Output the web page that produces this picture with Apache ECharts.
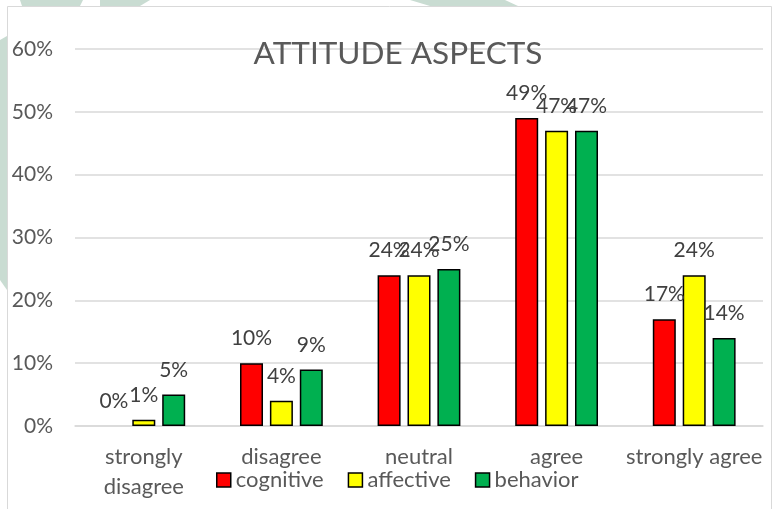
<!DOCTYPE html>
<html>
<head>
<meta charset="utf-8">
<script src="https://cdn.jsdelivr.net/npm/echarts@6/dist/echarts.min.js"></script>
<style>html,body{margin:0;padding:0;background:#fff;}#c{width:775px;height:509px;}</style>
</head>
<body>
<div id="c"></div>
<script>
const categories = ['strongly disagree', 'disagree', 'neutral', 'agree', 'strongly agree'];
const cognitive = [0, 10, 24, 49, 17];
const affective = [1, 4, 24, 47, 24];
const behavior = [5, 9, 25, 47, 14];
const seriesNames = ['cognitive', 'affective', 'behavior'];
const yTicks = [0, 10, 20, 30, 40, 50, 60];

const FONT = 'Lato';
const colors = ['#FF0000', '#FFFF00', '#00B050'];
const chart = echarts.init(document.getElementById('c'), null, {renderer: 'canvas'});

function mk(name, data, color) {
  return {
    name: name, type: 'bar',
    data: data.map(v => v === 0 ? {value: v, itemStyle: {borderWidth: 0}} : v),
    barWidth: 23, barGap: '30%',
    itemStyle: {color: color, borderColor: '#000', borderWidth: 1.5},
    label: {show: true, position: 'top', distance: 14, formatter: '{c}%',
      color: '#404040', fontFamily: FONT, fontSize: 21}
  };
}
const wm = '#c9dcd2';
chart.setOption({
  animation: false,
  backgroundColor: '#fff',
  title: {text: 'ATTITUDE ASPECTS', left: 393, top: 33, textAlign: 'center',
    textStyle: {fontFamily: FONT, fontSize: 31.5, fontWeight: 'normal', color: '#595959'}},
  graphic: [
    {type: 'polygon', z: -20, shape: {points: [[20,0],[83,0],[80,6],[22,6]]}, style: {fill: wm}},
    {type: 'polygon', z: -20, shape: {points: [[100,0],[150,0],[140,6],[100,6]]}, style: {fill: wm}},
    {type: 'polygon', z: -20, shape: {points: [[410,0],[505,0],[518,6],[430,6]]}, style: {fill: wm}},
    {type: 'polygon', z: -20, shape: {points: [[0,40],[7,36],[7,290],[0,280]]}, style: {fill: wm}},
    {type: 'rect', z: -15, shape: {x: 7.5, y: 6.5, width: 764, height: 520}, style: {fill: '#fff', stroke: '#d9d9d9', lineWidth: 1}}
  ],
  legend: {
    data: seriesNames, left: 211, top: 464, itemWidth: 14, itemHeight: 14, itemGap: 24,
    icon: 'rect',
    textStyle: {fontFamily: FONT, fontSize: 22, color: '#595959'},
    itemStyle: {borderColor: '#000', borderWidth: 1.5}
  },
  grid: {left: 75, right: 12, top: 49, bottom: 83, containLabel: false},
  xAxis: {
    type: 'category', data: categories,
    axisLine: {show: true, lineStyle: {color: '#d9d9d9', width: 1.5}},
    axisTick: {show: false},
    axisLabel: {fontFamily: FONT, fontSize: 22, color: '#595959', margin: 16, lineHeight: 30,
      interval: 0,
      formatter: v => v === 'strongly disagree' ? 'strongly\ndisagree' : v}
  },
  yAxis: {
    type: 'value', min: 0, max: 60, interval: 10,
    axisLine: {show: false}, axisTick: {show: false},
    splitLine: {lineStyle: {color: '#d9d9d9', width: 1.5}},
    axisLabel: {fontFamily: FONT, fontSize: 21, color: '#595959', margin: 22,
      formatter: v => yTicks.includes(v) ? v + '%' : ''}
  },
  series: [
    mk(seriesNames[0], cognitive, colors[0]),
    mk(seriesNames[1], affective, colors[1]),
    mk(seriesNames[2], behavior, colors[2])
  ]
});
</script>
</body>
</html>
